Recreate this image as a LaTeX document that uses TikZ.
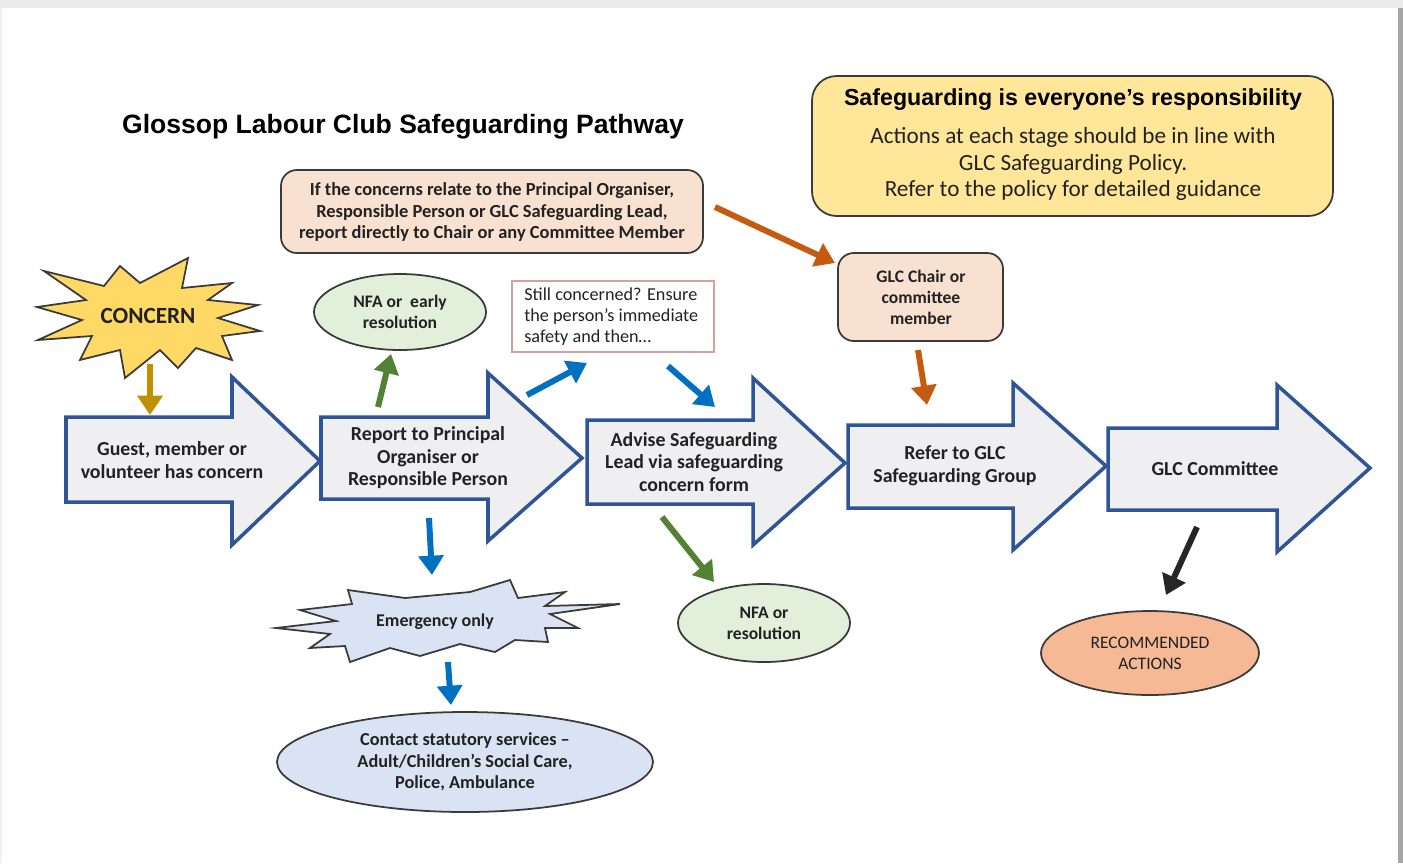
\documentclass[tikz,border=0pt]{standalone}
\usepackage{fontspec}
\setmainfont{Carlito}
\newfontfamily\arialfont{Liberation Sans}
\usetikzlibrary{shapes.geometric,arrows.meta}
\definecolor{bafill}{HTML}{EFEFF2}
\definecolor{baline}{HTML}{2F5597}
\definecolor{cgold}{HTML}{BF9000}
\definecolor{cgreen}{HTML}{548235}
\definecolor{cblue}{HTML}{0070C0}
\definecolor{corange}{HTML}{C55A11}
\definecolor{cblack}{HTML}{262626}
\definecolor{fstar}{HTML}{FFD966}
\definecolor{fpeach}{HTML}{F9E1D2}
\definecolor{fyellow}{HTML}{FFE699}
\definecolor{fgreen}{HTML}{E2EFDA}
\definecolor{fblue}{HTML}{DAE3F3}
\definecolor{fsalmon}{HTML}{F5B995}
\definecolor{sline}{HTML}{3A3A3A}
\definecolor{pinkline}{HTML}{D4A0A0}
\definecolor{txtc}{HTML}{222222}
\tikzset{
  blockarrow/.style={draw=baline, fill=bafill, line width=2pt, line join=miter},
  conn/.style={line width=3.4pt, -{Triangle[length=11pt,width=14pt]}},
  shapeline/.style={draw=sline, line width=1pt},
  btxt/.style={align=center, text=txtc, font=\bfseries\fontsize{11.3}{12.8}\selectfont, inner sep=0pt},
  rbox/.style={shapeline, rounded corners=9pt, fill=fpeach},
  ell/.style={ellipse, shapeline, inner sep=0pt, align=center, text=txtc},
}
\begin{document}
\begin{tikzpicture}[x=0.02cm,y=-0.02cm]
\useasboundingbox (0,0) rectangle (1403,863);
\fill[white] (0,0) rectangle (1403,863);
\fill[black!8] (0,0) rectangle (1403,8);
\fill[black!35] (1398,8) rectangle (1403,863);
\fill[black!6] (0,8) rectangle (2,863);

% title
\node[font=\arialfont\bfseries\fontsize{15.1}{17}\selectfont, text=black, inner sep=0pt] (title) at (403,127) {Glossop Labour Club Safeguarding Pathway};

% yellow info box
\draw[shapeline, fill=fyellow, rounded corners=14pt] (812,76) rectangle (1333,216);
\node[font=\arialfont\bfseries\fontsize{13.2}{15}\selectfont, text=black, inner sep=0pt] (infohead) at (1073,100) {Safeguarding is everyone’s responsibility};
\node[align=center, text=txtc, font=\fontsize{13.2}{15.3}\selectfont, inner sep=0pt] (infobody) at (1073,164) {Actions at each stage should be in line with\\GLC Safeguarding Policy.\\Refer to the policy for detailed guidance};

% peach box
\draw[rbox] (281,170) rectangle (703,253);
\node[btxt, font=\bfseries\fontsize{10.5}{12.2}\selectfont] (ifbox) at (492,212) {If the concerns relate to the Principal Organiser,\\Responsible Person or GLC Safeguarding Lead,\\report directly to Chair or any Committee Member};

% GLC chair box
\draw[rbox] (838,253) rectangle (1003,341);
\node[btxt, font=\bfseries\fontsize{10}{12}\selectfont] (chair) at (921,297) {GLC Chair or\\committee\\member};

% still concerned box
\draw[draw=pinkline, line width=0.8pt, fill=white] (512,281) rectangle (714,352);
\node[align=left, text=txtc, font=\fontsize{10.35}{12}\selectfont, inner sep=0pt, anchor=west] (still) at (524,317) {Still concerned? Ensure\\the person’s immediate\\safety and then…};

% concern star
\draw[shapeline, fill=fstar, line join=miter]
  (260,331) -- (222,336) -- (232,360) -- (196,348) -- (178,368) -- (160,350) -- (125,378)
  -- (120,350) -- (80,360) -- (92,336) -- (38,340) -- (82,320) -- (37,307) -- (86,300)
  -- (44,271) -- (104,286) -- (120,266) -- (140,283) -- (188,258) -- (182,288)
  -- (232,283) -- (208,300) -- (258,305) -- (218,318) -- cycle;
\node[btxt, font=\bfseries\fontsize{13.2}{14}\selectfont] (concern) at (148,316) {CONCERN};

% NFA early
\node[ell, fill=fgreen, minimum width=172*0.02cm, minimum height=76*0.02cm, font=\bfseries\fontsize{10}{12}\selectfont] (nfa1) at (400,312) {NFA or \ early\\resolution};

% block arrows
\draw[blockarrow] (66,417) -- (232,417) -- (232,377) -- (320,461) -- (232,545) -- (232,502) -- (66,502) -- cycle;
\draw[blockarrow] (321,417) -- (488,417) -- (488,373) -- (582,458) -- (488,541) -- (488,499) -- (321,499) -- cycle;
\draw[blockarrow] (587,420) -- (753,420) -- (753,378) -- (845,463) -- (753,545) -- (753,504) -- (587,504) -- cycle;
\draw[blockarrow] (848,425) -- (1013,425) -- (1013,383) -- (1106,466) -- (1013,550) -- (1013,508) -- (848,508) -- cycle;
\draw[blockarrow] (1108,428) -- (1277,428) -- (1277,385) -- (1370,468) -- (1277,552) -- (1277,510) -- (1108,510) -- cycle;

\node[btxt] (s1) at (172,460) {Guest, member or\\volunteer has concern};
\node[btxt] (s2) at (428,458) {Report to Principal\\Organiser or\\Responsible Person};
\node[btxt] (s3) at (694,462) {Advise Safeguarding\\Lead via safeguarding\\concern form};
\node[btxt] (s4) at (955,466) {Refer to GLC\\Safeguarding Group};
\node[btxt] (s5) at (1215,469) {GLC Committee};

% emergency star
\draw[shapeline, fill=fblue, line join=miter]
  (276,628) -- (336,621) -- (300,610) -- (352,604) -- (348,590) -- (405,598) -- (470,592)
  -- (510,580) -- (518,598) -- (565,592) -- (545,606) -- (620,604) -- (550,614)
  -- (578,628) -- (545,628) -- (548,642) -- (515,640) -- (495,652) -- (460,644)
  -- (420,656) -- (390,648) -- (350,662) -- (345,646) -- (310,648) -- (330,634) -- cycle;
\node[btxt, font=\bfseries\fontsize{10.2}{12}\selectfont] (emerg) at (435,622) {Emergency only};

% contact ellipse
\node[ell, fill=fblue, minimum width=376*0.02cm, minimum height=100*0.02cm, font=\bfseries\fontsize{10.4}{12.2}\selectfont] (contact) at (465,762) {Contact statutory services –\\Adult/Children’s Social Care,\\Police, Ambulance};

% NFA resolution
\node[ell, fill=fgreen, minimum width=172*0.02cm, minimum height=78*0.02cm, font=\bfseries\fontsize{10}{12}\selectfont] (nfa2) at (764,623) {NFA or\\resolution};

% recommended actions
\node[ell, fill=fsalmon, minimum width=218*0.02cm, minimum height=84*0.02cm, font=\fontsize{10}{12}\selectfont] (rec) at (1150,653) {RECOMMENDED\\ACTIONS};

% connector coordinates
\coordinate (g1a) at (150,364); \coordinate (g1b) at (150,415);
\coordinate (gr1a) at (378,407); \coordinate (gr1b) at (391,354);
\coordinate (b1a) at (527,395); \coordinate (b1b) at (587,363);
\coordinate (b2a) at (668,366); \coordinate (b2b) at (715,407);
\coordinate (o1a) at (715,207); \coordinate (o1b) at (835,263);
\coordinate (o2a) at (918,350); \coordinate (o2b) at (927,405);
\coordinate (b3a) at (429,518); \coordinate (b3b) at (432,575);
\coordinate (b4a) at (448,662); \coordinate (b4b) at (451,705);
\coordinate (gr2a) at (662,517); \coordinate (gr2b) at (714,582);
\coordinate (k1a) at (1197,527); \coordinate (k1b) at (1166,595);

\draw[conn, cgold] (g1a) -- (g1b);
\draw[conn, cgreen] (gr1a) -- (gr1b);
\draw[conn, cblue] (b1a) -- (b1b);
\draw[conn, cblue] (b2a) -- (b2b);
\draw[conn, corange] (o1a) -- (o1b);
\draw[conn, corange] (o2a) -- (o2b);
\draw[conn, cblue] (b3a) -- (b3b);
\draw[conn, cblue] (b4a) -- (b4b);
\draw[conn, cgreen] (gr2a) -- (gr2b);
\draw[conn, cblack] (k1a) -- (k1b);
\end{tikzpicture}
\end{document}
